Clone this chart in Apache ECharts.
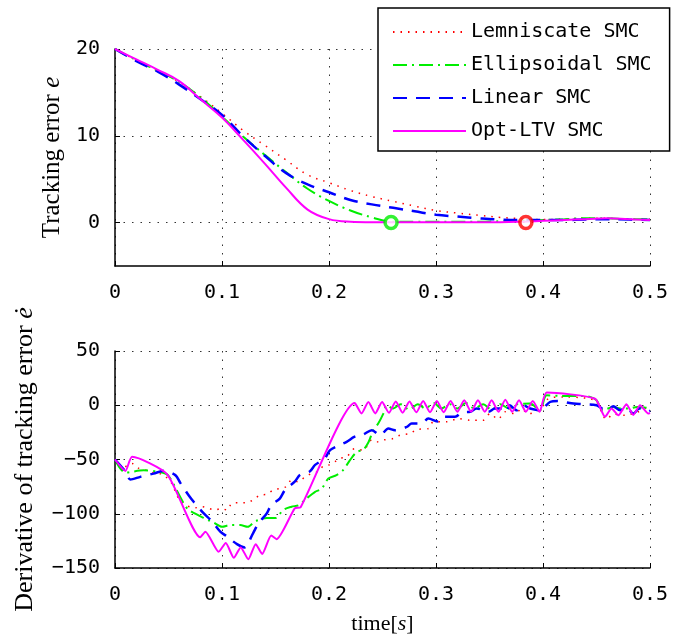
<!DOCTYPE html>
<html>
<head>
<meta charset="utf-8">
<script src="https://cdn.jsdelivr.net/npm/echarts@6/dist/echarts.min.js"></script>
<style>
  html, body { margin: 0; padding: 0; background: #fff; }
  #chart { width: 685px; height: 637px; }
</style>
</head>
<body>
<div id="chart"></div>
<script>
// time axis of the upper plot (s)
const tTop = [0, 0.02, 0.04, 0.06, 0.08, 0.10, 0.12, 0.14, 0.16, 0.18, 0.20, 0.22, 0.24,
  0.26, 0.28, 0.30, 0.32, 0.34, 0.36, 0.38, 0.40, 0.42, 0.44, 0.46, 0.48, 0.50]

// tracking error e
const eLemniscate = [20, 18.7, 17.5, 16.2, 14.5, 12.6, 10.6, 8.9, 7.2, 5.5, 4.6, 3.7, 3.0,
  2.45, 1.9, 1.4, 1.1, 0.85, 0.6, 0.45, 0.35, 0.4, 0.5, 0.5, 0.4, 0.4]
const eEllipsoidal = [20, 18.7, 17.5, 16.2, 14.4, 12.2, 9.9, 7.8, 5.8, 3.9, 2.5, 1.4, 0.6,
  0.1, 0.1, 0.1, 0.1, 0.1, 0.15, 0.2, 0.3, 0.4, 0.5, 0.5, 0.4, 0.4]
const eLinear = [20, 18.6, 17.4, 15.9, 14.2, 12.4, 9.9, 7.7, 5.7, 4.4, 3.5, 2.6, 2.1,
  1.7, 1.3, 0.9, 0.7, 0.5, 0.35, 0.3, 0.3, 0.3, 0.35, 0.4, 0.35, 0.3]
const eOptLTV = [20, 18.8, 17.6, 16.3, 14.2, 12.1, 9.5, 6.8, 4.0, 1.5, 0.4, 0.1, 0.05,
  0.05, 0.05, 0.05, 0.05, 0.05, 0.05, 0.1, 0.2, 0.3, 0.4, 0.5, 0.4, 0.3]

// convergence markers [t, e]
const markEllipsoidal = [0.258, 0]
const markLemniscate = [0.384, 0]

// derivative of tracking error, [t, de]
const dLemniscate = [[0, -50], [0.0065, -58], [0.0159, -53.6], [0.022, -58], [0.03, -60], [0.0377, -62.8],
  [0.044, -63.5], [0.053, -72], [0.0564, -79.8], [0.0595, -85.8], [0.066, -92], [0.075, -94.5],
  [0.0813, -93.5], [0.0875, -95], [0.0937, -96.6], [0.099, -95], [0.1047, -96.6], [0.1093, -90.4],
  [0.1156, -89.9], [0.122, -89.9], [0.1277, -88], [0.1355, -82.8], [0.142, -82], [0.148, -78],
  [0.154, -76.7], [0.16, -75], [0.165, -69], [0.171, -70.5], [0.1776, -66], [0.184, -62.8],
  [0.19, -61], [0.1947, -56], [0.2, -55], [0.2056, -52], [0.21, -49], [0.2165, -47.5], [0.224, -40],
  [0.232, -41.4], [0.24, -32], [0.2445, -33.8], [0.2508, -32], [0.26, -30.7], [0.2664, -27.6],
  [0.2757, -26], [0.282, -22.4], [0.293, -21.5], [0.2975, -15.3], [0.31, -15.3], [0.321, -12.3],
  [0.332, -13.8], [0.344, -13.8], [0.3505, -7.7], [0.358, -13], [0.3645, -6], [0.374, -7.7],
  [0.38, -3], [0.386, -7.7], [0.397, -4.6], [0.405, 6], [0.419, 7.7], [0.444, 6], [0.45, 3],
  [0.4595, -13], [0.4657, -8.3], [0.4766, -9.2], [0.489, -6], [0.498, -1.5], [0.5, -1]]
const dEllipsoidal = [[0, -50], [0.0097, -62], [0.0268, -60], [0.044, -62], [0.05, -65], [0.064, -90],
  [0.069, -96.6], [0.0875, -106], [0.092, -108], [0.1, -112], [0.1078, -110.4], [0.117, -110.4],
  [0.124, -112], [0.131, -107], [0.1418, -104], [0.15, -104], [0.157, -96.6], [0.165, -93.5],
  [0.172, -92], [0.179, -86], [0.187, -79.8], [0.193, -77], [0.1994, -67.5], [0.207, -64.4],
  [0.213, -60], [0.2196, -50.6], [0.226, -43], [0.232, -41], [0.237, -33.8], [0.2414, -23],
  [0.246, -16.8], [0.2508, -7.7], [0.254, 0], [0.26, -3], [0.267, 1], [0.275, -4], [0.283, 1],
  [0.29, -3], [0.298, 2], [0.305, -3], [0.313, 1], [0.32, -3], [0.328, 2], [0.336, -3], [0.344, 1],
  [0.352, -4], [0.36, 1], [0.368, -3], [0.376, 1], [0.388, 1.5], [0.397, -5], [0.4035, 9.2],
  [0.416, 8.6], [0.4315, 8.6], [0.444, 7.7], [0.45, 4.6], [0.456, -4.6], [0.4657, -1.5],
  [0.472, -3], [0.48, -3], [0.488, -1.5], [0.495, -2], [0.5, -3]]
const dLinear = [[0, -50], [0.0097, -61], [0.0143, -68.4], [0.0236, -66], [0.036, -63], [0.0455, -60.4],
  [0.0564, -64.4], [0.061, -71.5], [0.0688, -83], [0.0735, -89], [0.083, -99.7], [0.0906, -107],
  [0.0984, -116.5], [0.1047, -121], [0.114, -128], [0.121, -131], [0.129, -118], [0.134, -109],
  [0.1418, -99.7], [0.146, -92], [0.154, -86], [0.159, -78], [0.168, -70.5], [0.173, -64],
  [0.182, -61], [0.187, -55], [0.196, -49], [0.201, -41.4], [0.21, -36.8], [0.2165, -33.7],
  [0.224, -29], [0.232, -27], [0.24, -23], [0.2477, -27.6], [0.2555, -21.5], [0.2617, -23],
  [0.2726, -20], [0.2773, -16.8], [0.2866, -16.8], [0.2928, -12.3], [0.302, -15], [0.3068, -10.7],
  [0.3178, -10.7], [0.324, -6.7], [0.332, -6], [0.338, -3], [0.349, -6], [0.355, -3], [0.3614, -3],
  [0.366, -6], [0.369, 0], [0.3754, -4.6], [0.3816, 0], [0.388, -3], [0.397, -4.6], [0.4065, 3],
  [0.414, 4], [0.425, 2], [0.436, 1], [0.45, 0], [0.455, -3], [0.46, -4.6], [0.4657, -1],
  [0.472, -4.6], [0.478, -2], [0.4844, -7.7], [0.49, -3], [0.497, -6], [0.5, -5]]
const dOptLTV = [[0, -50], [0.0097, -60.5], [0.016, -47.5], [0.0486, -63.5], [0.0797, -121.7],
  [0.0845, -116.5], [0.0969, -135], [0.1035, -127], [0.111, -140.5], [0.1175, -131], [0.1246, -142],
  [0.1315, -128], [0.1375, -137], [0.146, -120], [0.151, -123.5], [0.168, -95], [0.1735, -94],
  [0.224, 2], [0.2304, -7.5], [0.2368, 3], [0.2432, -7.5], [0.2496, 3], [0.256, -7], [0.2624, 3.5],
  [0.2688, -7], [0.2752, 3.5], [0.2816, -6.5], [0.288, 4], [0.2944, -6.5], [0.3008, 4], [0.3072, -6.5],
  [0.3136, 4], [0.32, -6], [0.3264, 4.5], [0.3328, -6], [0.3392, 4.5], [0.3456, -6], [0.352, 4.5],
  [0.3584, -6], [0.3648, 5], [0.3712, -6], [0.3776, 4.5], [0.384, -6], [0.3904, 4], [0.3968, -6],
  [0.4035, 11.7], [0.4486, 6], [0.458, -10.7], [0.464, -3], [0.4704, -9.2], [0.478, 1],
  [0.4844, -9], [0.4907, 0], [0.4984, -7.7], [0.5, -7]]

const names = ['Lemniscate SMC', 'Ellipsoidal SMC', 'Linear SMC', 'Opt-LTV SMC']
const colors = ['#ff0000', '#00ee00', '#0000ff', '#ff00ff']
const yTicksTop = [0, 10, 20]

const monoFont = 'DejaVu Sans Mono'
const serifFont = 'Liberation Serif'
const dash = [[1.5, 6], [14, 5, 2, 5], [14, 9], null]
const widths = [1.5, 2, 2.5, 2]
const gridLine = { show: true, lineStyle: { color: '#333', type: [1.5, 7], width: 1 } }

const chart = echarts.init(document.getElementById('chart'), null, { renderer: 'canvas' })

function zip(t, v) {
  return t.map((x, i) => [x, v[i]])
}

function nameStyle(size) {
  return {
    rich: {
      n: { fontFamily: serifFont, fontSize: size, color: '#000' },
      i: { fontFamily: serifFont, fontSize: size, fontStyle: 'italic', color: '#000' }
    }
  }
}

function xAxisOf(gridIndex, withName) {
  const ax = {
    type: 'value',
    gridIndex: gridIndex,
    min: 0,
    max: 0.5,
    interval: 0.1,
    axisLine: { onZero: false, lineStyle: { color: '#000', width: 1.5 } },
    axisTick: { inside: true, length: 5, lineStyle: { color: '#000' } },
    axisLabel: {
      color: '#000',
      fontFamily: monoFont,
      fontSize: 20,
      margin: 17,
      formatter: v => String(Math.round(v * 10) / 10)
    },
    splitLine: gridLine
  }
  if (withName) {
    ax.name = '{n|time[}{i|s}{n|]}'
    ax.nameLocation = 'middle'
    ax.nameGap = 45
    ax.nameTextStyle = nameStyle(22)
  }
  return ax
}

const lineSeries = []
const eTop = [eLemniscate, eEllipsoidal, eLinear, eOptLTV]
const dBottom = [dLemniscate, dEllipsoidal, dLinear, dOptLTV]
names.forEach((name, i) => {
  const lineStyle = { color: colors[i], width: widths[i], type: dash[i] || 'solid' }
  lineSeries.push({
    name: name,
    type: 'line',
    xAxisIndex: 0,
    yAxisIndex: 0,
    data: zip(tTop, eTop[i]),
    symbol: 'none',
    smooth: 0.4,
    lineStyle: lineStyle,
    itemStyle: { color: colors[i] }
  })
  lineSeries.push({
    name: name,
    type: 'line',
    xAxisIndex: 1,
    yAxisIndex: 1,
    data: dBottom[i],
    symbol: 'none',
    smooth: i === 3 ? 0.2 : 0.3,
    lineStyle: lineStyle,
    itemStyle: { color: colors[i] }
  })
})

lineSeries.push({
  type: 'scatter',
  xAxisIndex: 0,
  yAxisIndex: 0,
  symbol: 'circle',
  symbolSize: 12,
  z: 5,
  data: [
    { value: markEllipsoidal, itemStyle: { color: '#fff', borderColor: '#00ee00', borderWidth: 3.5 } },
    { value: markLemniscate, itemStyle: { color: '#fff', borderColor: '#ff0000', borderWidth: 3.5 } }
  ]
})

chart.setOption({
  animation: false,
  backgroundColor: '#fff',
  grid: [
    { left: 115, top: 49, width: 535, height: 217 },
    { left: 115, top: 351, width: 535, height: 217 }
  ],
  legend: {
    data: names,
    orient: 'vertical',
    left: 378,
    top: 8,
    padding: [12, 18, 8, 14],
    itemGap: 9,
    itemWidth: 73,
    itemHeight: 14,
    itemStyle: { opacity: 0 },
    backgroundColor: '#fff',
    borderColor: '#000',
    borderWidth: 1.5,
    borderRadius: 0,
    textStyle: { fontFamily: monoFont, fontSize: 20, color: '#000', lineHeight: 24 },
    z: 10
  },
  xAxis: [xAxisOf(0, false), xAxisOf(1, true)],
  yAxis: [
    {
      type: 'value',
      gridIndex: 0,
      min: -5,
      max: 20,
      name: '{n|Tracking error }{i|e}',
      nameLocation: 'middle',
      nameGap: 44,
      nameTextStyle: nameStyle(25),
      axisLine: { lineStyle: { color: '#000', width: 1.5 } },
      axisTick: { inside: true, length: 5, customValues: yTicksTop, lineStyle: { color: '#000' } },
      axisLabel: {
        color: '#000',
        fontFamily: monoFont,
        fontSize: 20,
        margin: 15,
        customValues: yTicksTop
      },
      splitLine: gridLine
    },
    {
      type: 'value',
      gridIndex: 1,
      min: -150,
      max: 50,
      interval: 50,
      name: '{n|Derivative of tracking error }{i|ė}',
      nameLocation: 'middle',
      nameGap: 77,
      nameTextStyle: nameStyle(26),
      axisLine: { lineStyle: { color: '#000', width: 1.5 } },
      axisTick: { inside: true, length: 5, lineStyle: { color: '#000' } },
      axisLabel: {
        color: '#000',
        fontFamily: monoFont,
        fontSize: 20,
        margin: 15,
        formatter: v => String(v).replace('-', '\u2212')
      },
      splitLine: gridLine
    }
  ],
  series: lineSeries
})
</script>
</body>
</html>
